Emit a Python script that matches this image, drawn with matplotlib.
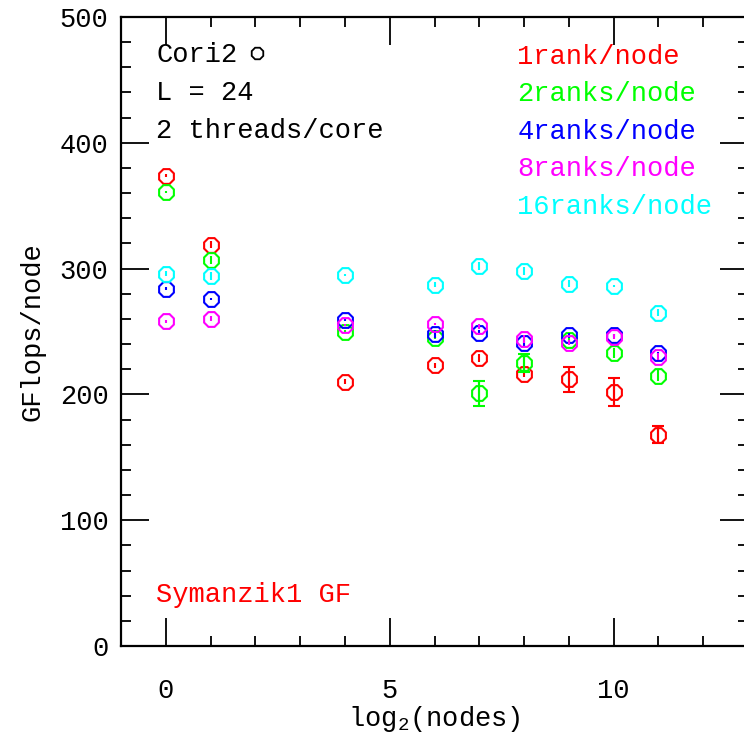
import numpy as np
import matplotlib
matplotlib.use('Agg')
import matplotlib.pyplot as plt
from matplotlib.ticker import MultipleLocator

plt.rcParams['font.family'] = 'Liberation Mono'
plt.rcParams['mathtext.fontset'] = 'custom'
plt.rcParams['mathtext.rm'] = 'Liberation Mono'

# log2 of node count
nodes_1 = [0, 1, 4, 6, 7, 8, 9, 10, 11]

# GFlops/node per ranks-per-node setting, with error estimates
rank1 = [374, 319, 210, 223, 229, 216, 212, 202, 168]
rank1_err = [1, 3, 2, 2, 3, 2, 10, 11, 7]
rank2 = [361, 307, 250, 245, 201, 225, 243, 233, 215]
rank2_err = [1, 3, 1, 1, 10, 7, 2, 4, 4]
rank4 = [284, 276, 259, 248, 249, 241, 247, 247, 233]
rank4_err = [1, 1, 1, 3, 2, 3, 2, 1, 1]
rank8 = [258, 260, 255, 256, 254, 244, 241, 246, 230]
rank8_err = [1, 2, 1, 1, 2, 3, 2, 2, 3]
rank16 = [296, 294, 295, 287, 302, 298, 288, 286, 265]
rank16_err = [2, 3, 1, 2, 3, 3, 3, 1, 3]

series_labels = ['1rank/node', '2ranks/node', '4ranks/node', '8ranks/node', '16ranks/node']
series_colors = ['#ff0000', '#00ff00', '#0000ff', '#ff00ff', '#00ffff']

fig = plt.figure(figsize=(7.44, 7.37), dpi=100)
ax = fig.add_axes([121 / 744, 91 / 737, 627 / 744, 629 / 737])

octagon = (8, 0, 22.5)
series = [(rank1, rank1_err), (rank2, rank2_err), (rank4, rank4_err),
          (rank8, rank8_err), (rank16, rank16_err)]
for (vals, errs), color in zip(series, series_colors):
    vals = np.array(vals, dtype=float)
    errs = np.array(errs, dtype=float)
    ax.errorbar(nodes_1, vals, yerr=errs, fmt='none', ecolor=color,
                elinewidth=1.5, capsize=0)
    # caps only show up once the bar sticks out of the symbol
    big = errs > 6
    if big.any():
        ax.errorbar(np.array(nodes_1)[big], vals[big], yerr=errs[big], fmt='none',
                    ecolor=color, elinewidth=1.5, capsize=4.3, capthick=1.5)
    ax.plot(nodes_1, vals, linestyle='none', marker=octagon, ms=11.5,
            mfc='none', mec=color, mew=1.5)

ax.set_xlim(-1, 13)
ax.set_ylim(0, 500)
ax.xaxis.set_major_locator(MultipleLocator(5))
ax.xaxis.set_minor_locator(MultipleLocator(1))
ax.yaxis.set_major_locator(MultipleLocator(100))
ax.yaxis.set_minor_locator(MultipleLocator(20))
ax.tick_params(which='both', direction='in', top=True, right=True, width=1.3)
ax.tick_params(which='major', length=20, labelsize=19.5)
ax.tick_params(which='minor', length=7)
ax.tick_params(axis='x', which='major', pad=23)
ax.tick_params(axis='y', which='major', pad=9)
for sp in ax.spines.values():
    sp.set_linewidth(1.6)

ax.set_xlabel('log$_2$(nodes)', fontsize=19.5, labelpad=0)
ax.set_ylabel('GFlops/node', fontsize=19.5, labelpad=10)

fs = 19.5
ax.text(0.056, 0.940, 'Cori2', fontsize=fs, va='center', transform=ax.transAxes)
ax.plot([0.217], [0.942], marker=octagon, ms=9, mfc='none', mec='k', mew=1.3,
        transform=ax.transAxes, clip_on=False)
ax.text(0.056, 0.879, 'L = 24', fontsize=fs, va='center', transform=ax.transAxes)
ax.text(0.056, 0.819, '2 threads/core', fontsize=fs, va='center', transform=ax.transAxes)

for i, (lab, color) in enumerate(zip(series_labels, series_colors)):
    ax.text(0.632, 0.937 - i * 0.0598, lab, color=color, fontsize=fs,
            va='center', transform=ax.transAxes)

ax.text(0.056, 0.081, 'Symanzik1 GF', color='#ff0000', fontsize=fs,
        va='center', transform=ax.transAxes)

fig.savefig('out.png', dpi=100)
